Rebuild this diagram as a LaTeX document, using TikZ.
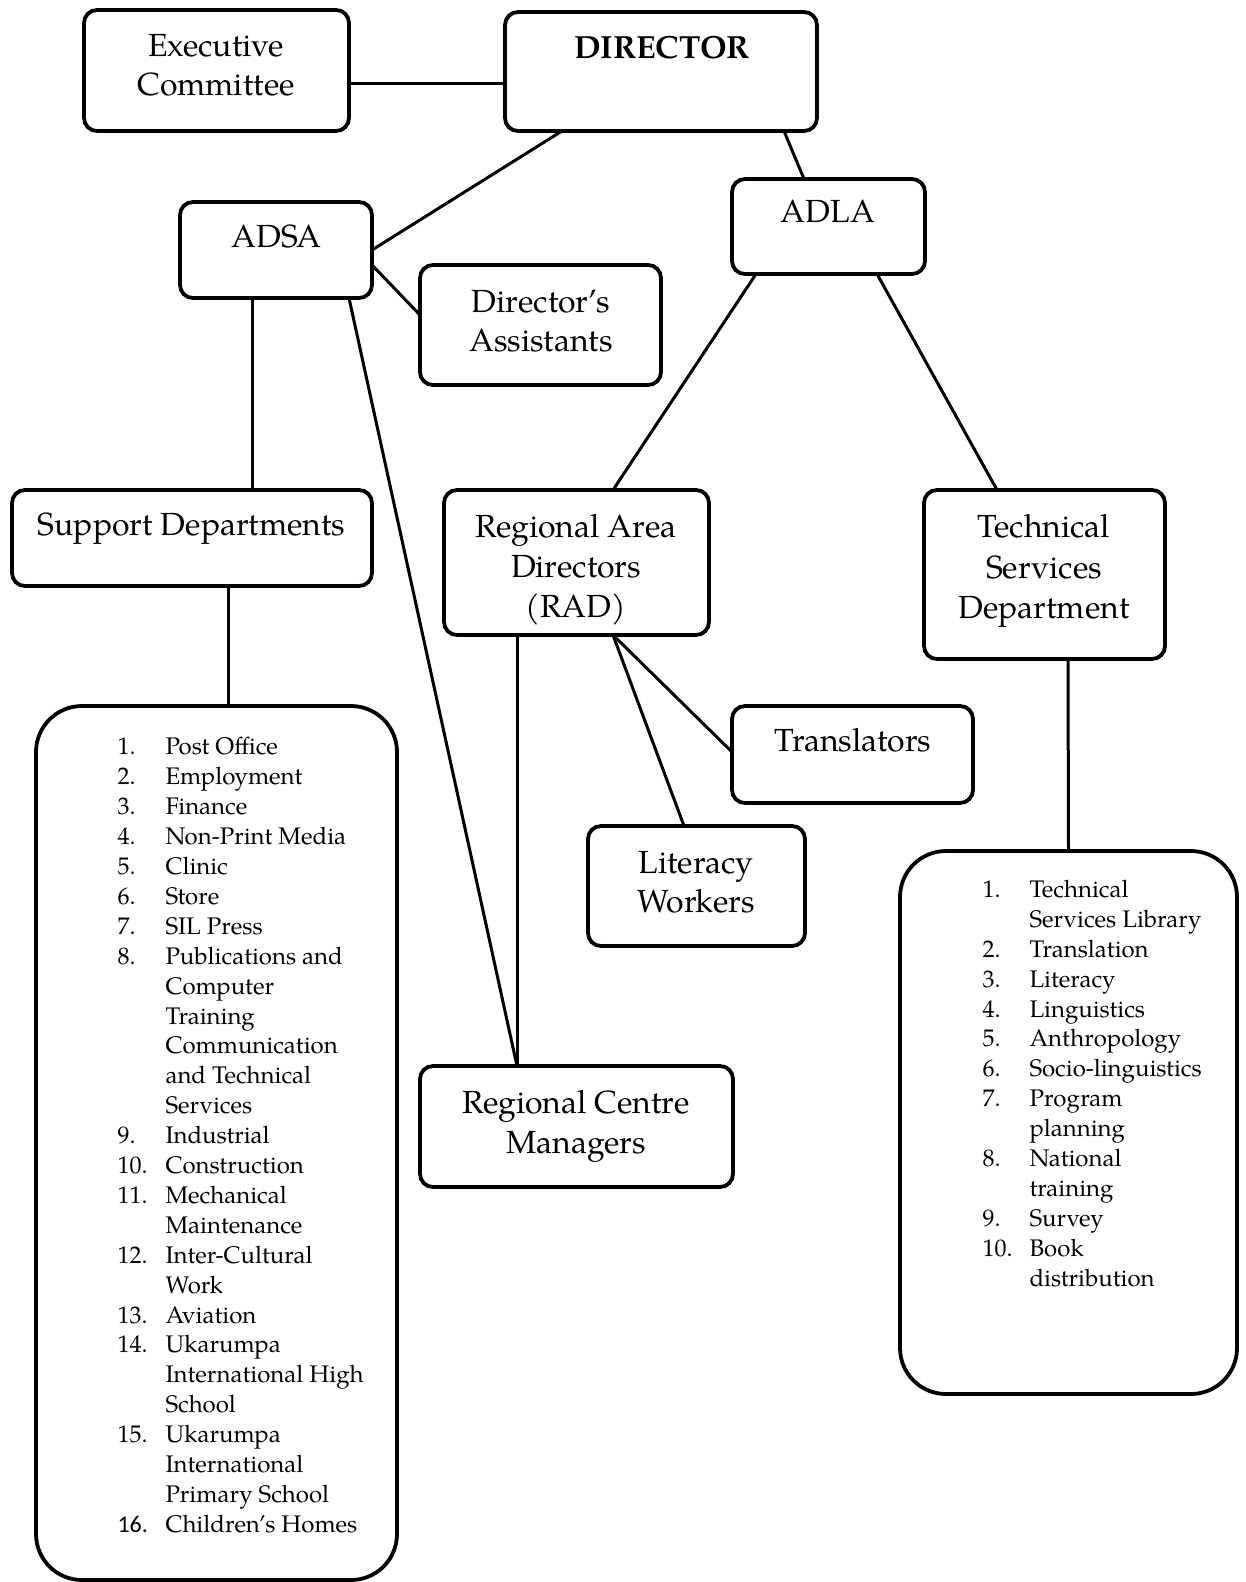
\documentclass[tikz,border=0pt]{standalone}
\usepackage{fontspec}
\setmainfont{TeX Gyre Pagella}
\newfontfamily\numfont{Carlito}
\usetikzlibrary{calc}
\begin{document}
\begin{tikzpicture}[x=1pt,y=-1pt,line width=3pt,
  box/.style={draw,rounded corners=13pt,line width=3.8pt,inner sep=0pt,outer sep=0pt},
  listbox/.style={draw,rounded corners=46pt,line width=3.8pt,inner sep=0pt,outer sep=0pt},
  txt/.style={font=\fontsize{32}{39.5}\selectfont,anchor=base,inner sep=0pt},
  listtxt/.style={font=\fontsize{24}{29.9}\selectfont,anchor=north west,inner sep=0pt},
  conn/.style={line width=3pt}]
\useasboundingbox (0,0) rectangle (1245,1582);
% boxes
\node[box,minimum width=265pt,minimum height=121pt] (exec) at (216.5,70.5) {};
\node[box,minimum width=312pt,minimum height=119pt] (dir) at (661,71.5) {};
\node[box,minimum width=192pt,minimum height=96pt] (adsa) at (276,250) {};
\node[box,minimum width=241pt,minimum height=120pt] (asst) at (540.5,325) {};
\node[box,minimum width=193pt,minimum height=95pt] (adla) at (828.5,226.5) {};
\node[box,minimum width=360pt,minimum height=96pt] (support) at (192,538) {};
\node[box,minimum width=265pt,minimum height=145pt] (rad) at (576.5,562.5) {};
\node[box,minimum width=241pt,minimum height=169pt] (tsd) at (1044.5,574.5) {};
\node[box,minimum width=241pt,minimum height=97pt] (transl) at (852.5,754.5) {};
\node[box,minimum width=217pt,minimum height=120pt] (lit) at (696.5,886) {};
\node[box,minimum width=313pt,minimum height=121pt] (rcm) at (576.5,1126.5) {};
\node[listbox,minimum width=361pt,minimum height=874pt] (slist) at (216.5,1143) {};
\node[listbox,minimum width=337pt,minimum height=543pt] (tlist) at (1068.5,1122.5) {};
% texts
\node[txt] (exec1) at (216,56.4) {Executive};
\node[txt] (exec2) at (216,95.8) {Committee};
\node[txt,font=\fontsize{32}{39.5}\selectfont\bfseries] (dir1) at (662,58.4) {DIRECTOR};
\node[txt] (adsa1) at (276.5,247) {ADSA};
\node[txt] (asst1) at (541,312.7) {Director’s};
\node[txt] (asst2) at (541,351) {Assistants};
\node[txt] (adla1) at (828,222.9) {ADLA};
\node[txt] (support1) at (191.7,535.7) {Support Departments};
\node[txt] (rad1) at (576,537.7) {Regional Area};
\node[txt] (rad2) at (576,577) {Directors};
\node[txt] (rad3) at (576,617.4) {(RAD)};
\node[txt] (tsd1) at (1044,537.7) {Technical};
\node[txt] (tsd2) at (1044,578) {Services};
\node[txt] (tsd3) at (1044,618.4) {Department};
\node[txt] (transl1) at (853,751.6) {Translators};
\node[txt] (lit1) at (696,873.7) {Literacy};
\node[txt] (lit2) at (696,912) {Workers};
\node[txt] (rcm1) at (576,1113.8) {Regional Centre};
\node[txt] (rcm2) at (576,1153) {Managers};
% lists
\node[listtxt] (slisttext) at (116,732.5) {\begin{tabular}{@{}p{48pt}@{}l@{}}
1. & Post Office\\
2. & Employment\\
3. & Finance\\
4. & Non-Print Media\\
5. & Clinic\\
6. & Store\\
7. & SIL Press\\
8. & Publications and\\
 & Computer\\
 & Training\\
 & Communication\\
 & and Technical\\
 & Services\\
9. & Industrial\\
10. & Construction\\
11. & Mechanical\\
 & Maintenance\\
12. & Inter-Cultural\\
 & Work\\
13. & Aviation\\
14. & Ukarumpa\\
 & International High\\
 & School\\
15. & Ukarumpa\\
 & International\\
 & Primary School\\
{\numfont 16.} & Children’s Homes
\end{tabular}};
\node[listtxt] (tlisttext) at (981,875) {\begin{tabular}{@{}p{47pt}@{}l@{}}
1. & Technical\\
 & Services Library\\
2. & Translation\\
3. & Literacy\\
4. & Linguistics\\
5. & Anthropology\\
6. & Socio-linguistics\\
7. & Program\\
 & planning\\
8. & National\\
 & training\\
9. & Survey\\
10. & Book\\
 & distribution
\end{tabular}};
% connectors
\draw[conn] ($(exec.east)+(0,12.5)$) -- ($(dir.west)+(0,11.5)$);
\draw[conn] ($(dir.south west)+(57,0)$) -- ($(adsa.north east)+(0,48)$);
\draw[conn] ($(dir.south west)+(279,0)$) -- ($(adla.north west)+(72,0)$);
\draw[conn] ($(adsa.north east)+(0,63)$) -- ($(asst.north west)+(0,50)$);
\draw[conn] ($(adsa.south west)+(72,0)$) -- ($(support.north west)+(240,0)$);
\draw[conn] ($(adsa.south west)+(169,0)$) -- ($(rcm.north west)+(97,0)$);
\draw[conn] ($(adla.south west)+(24,0)$) -- ($(rad.north west)+(169,0)$);
\draw[conn] ($(adla.south west)+(145,0)$) -- ($(tsd.north west)+(73,0)$);
\draw[conn] ($(rad.south west)+(169,0)$) -- ($(transl.north west)+(0,46)$);
\draw[conn] ($(rad.south west)+(169,0)$) -- ($(lit.north west)+(96,0)$);
\draw[conn] ($(rad.south west)+(73,0)$) -- ($(rcm.north west)+(97,0)$);
\draw[conn] ($(support.south west)+(216,0)$) -- ($(slist.north west)+(192,0)$);
\draw[conn] ($(tsd.south west)+(144,0)$) -- (tlist.north);
\end{tikzpicture}
\end{document}
